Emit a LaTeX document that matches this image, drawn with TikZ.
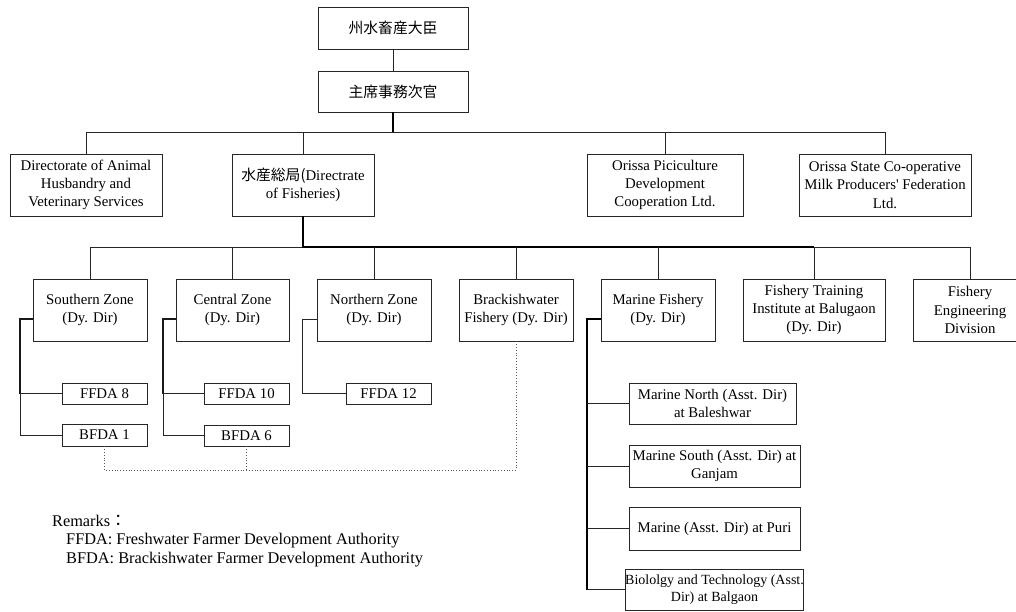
\documentclass[tikz,border=0pt]{standalone}
\usepackage{fontspec}
\setmainfont{Liberation Serif}
\newfontfamily\cjk{Noto Sans CJK JP}
\begin{document}
\begin{tikzpicture}[x=1pt,y=-1pt,
  txt/.style={font=\fontsize{14.8}{18.3}\selectfont},
  note/.style={font=\fontsize{16.3}{19.5}\selectfont, anchor=west, inner sep=0pt},
  box/.style={txt, draw=black!85, line width=0.9pt, align=center, inner sep=0pt},
  link/.style={black!85, line width=0.9pt},
  mid/.style={black!90, line width=1.5pt},
  trunk/.style={black, line width=2.2pt},
  dotline/.style={black!65, line width=0.8pt, dotted}]
\useasboundingbox (0,0) rectangle (1016,612);
\clip (0,0) rectangle (1016,612);

% top of the hierarchy
\node[box, minimum width=150pt, minimum height=42pt] (minister) at (393,28) {\cjk 州水畜産大臣};
\node[box, minimum width=150pt, minimum height=41pt] (secretary) at (393,91.5) {\cjk 主席事務次官};

% second level
\node[box, minimum width=152pt, minimum height=62pt] (animal) at (86,185)
  {Directorate of Animal\\Husbandry and\\Veterinary Services};
\node[box, minimum width=142pt, minimum height=62pt] (fisheries) at (303,185)
  {{\cjk 水産総局(}Directrate\\of Fisheries)};
\node[box, minimum width=156pt, minimum height=62pt] (piciculture) at (665,185)
  {Orissa Piciculture\\Development\\Cooperation Ltd.};
\node[box, minimum width=172pt, minimum height=62pt] (milk) at (885,185)
  {Orissa State Co-operative\\Milk Producers\textquotesingle{} Federation\\Ltd.};

% divisions of the Directorate of Fisheries
\node[box, minimum width=114pt, minimum height=62pt] (southern) at (90,310) {Southern Zone\\(Dy. Dir)};
\node[box, minimum width=113pt, minimum height=62pt] (central) at (232.5,310) {Central Zone\\(Dy. Dir)};
\node[box, minimum width=114pt, minimum height=62pt] (northern) at (374,310) {Northern Zone\\(Dy. Dir)};
\node[box, minimum width=114pt, minimum height=62pt] (brackish) at (516,310) {Brackishwater\\Fishery (Dy. Dir)};
\node[box, minimum width=114pt, minimum height=62pt] (marine) at (658,310) {Marine Fishery\\(Dy. Dir)};
\node[box, minimum width=142pt, minimum height=62pt] (training) at (814,310)
  {Fishery Training\\Institute at Balugaon\\(Dy. Dir)};
\node[box, minimum width=114pt, minimum height=62pt] (engineering) at (970,310)
  {Fishery\\Engineering\\Division};

% zone authorities
\node[box, minimum width=85pt, minimum height=21pt] (ffda8) at (104.5,393.5) {FFDA 8};
\node[box, minimum width=85pt, minimum height=22pt] (bfda1) at (104.5,435) {BFDA 1};
\node[box, minimum width=85pt, minimum height=21pt] (ffda10) at (246.5,393.5) {FFDA 10};
\node[box, minimum width=85pt, minimum height=21pt] (bfda6) at (246.5,435.5) {BFDA 6};
\node[box, minimum width=85pt, minimum height=21pt] (ffda12) at (388.5,393.5) {FFDA 12};

% marine offices
\node[box, minimum width=167pt, minimum height=41pt] (mnorth) at (712.5,403.5) {Marine North (Asst. Dir)\\at Baleshwar};
\node[box, minimum width=171pt, minimum height=42pt] (msouth) at (714.5,466) {Marine South (Asst. Dir) at\\Ganjam};
\node[box, minimum width=171pt, minimum height=43pt] (mpuri) at (714.5,528.5) {Marine (Asst. Dir) at Puri};
\node[box, minimum width=171pt, minimum height=41pt, font=\fontsize{14}{17.5}\selectfont] (mbio) at (714.5,589.5)
  {Biololgy and Technology (Asst.\\Dir) at Balgaon};

% routing coordinates
\coordinate (bus1) at (0,132);
\coordinate (bus2) at (0,247);
\coordinate (dl) at (0,470);
\coordinate (sv) at (20,319);
\coordinate (cv) at (163,319);
\coordinate (nv) at (302,319);
\coordinate (mv) at (587,319);

% upper connectors
\draw[link] (minister) -- (secretary);
\draw[trunk] (secretary.south) -- (secretary.south |- bus1);
\draw[link] (animal.north |- bus1) -- (milk.north |- bus1);
\foreach \n in {animal,fisheries,piciculture,milk}
  \draw[link] (\n.north) -- (\n.north |- bus1);

% directorate bus
\draw[link] (southern.north |- bus2) -- (fisheries.south |- bus2);
\draw[link] (training.north |- bus2) -- (engineering.north |- bus2);
\draw[trunk] (fisheries.south) -- (fisheries.south |- bus2) -- (training.north |- bus2);
\foreach \n in {southern,central,northern,brackish,marine,training,engineering}
  \draw[link] (\n.north) -- (\n.north |- bus2);

% zone branches
\draw[mid] (sv -| southern.west) -- (sv) -- (sv |- ffda8.west);
\draw[link] (sv |- ffda8.west) |- (bfda1.west);
\draw[link] (ffda8.west) -- (ffda8.west -| sv);
\draw[mid] (cv -| central.west) -- (cv) -- (cv |- ffda10.west);
\draw[link] (cv |- ffda10.west) |- (bfda6.west);
\draw[link] (ffda10.west) -- (ffda10.west -| cv);
\draw[link] (nv -| northern.west) -- (nv) |- (ffda12.west);

% marine branches
\draw[trunk] (mv -| marine.west) -- (mv) -- (mv |- mbio.west);
\foreach \n in {mnorth,msouth,mpuri,mbio}
  \draw[link] (\n.west) -- (\n.west -| mv);

% brackishwater supervision of the BFDAs
\draw[dotline] (bfda1.south) -- (bfda1.south |- dl) -- (brackish.south |- dl) -- (brackish.south);
\draw[dotline] (bfda6.south) -- (bfda6.south |- dl);

% remarks
\node[note] (remarks) at (52,521) {Remarks{\cjk ：}};
\node[note] (rem1) at (66,541) {FFDA: Freshwater Farmer Development Authority};
\node[note] (rem2) at (66,560) {BFDA: Brackishwater Farmer Development Authority};
\end{tikzpicture}
\end{document}
